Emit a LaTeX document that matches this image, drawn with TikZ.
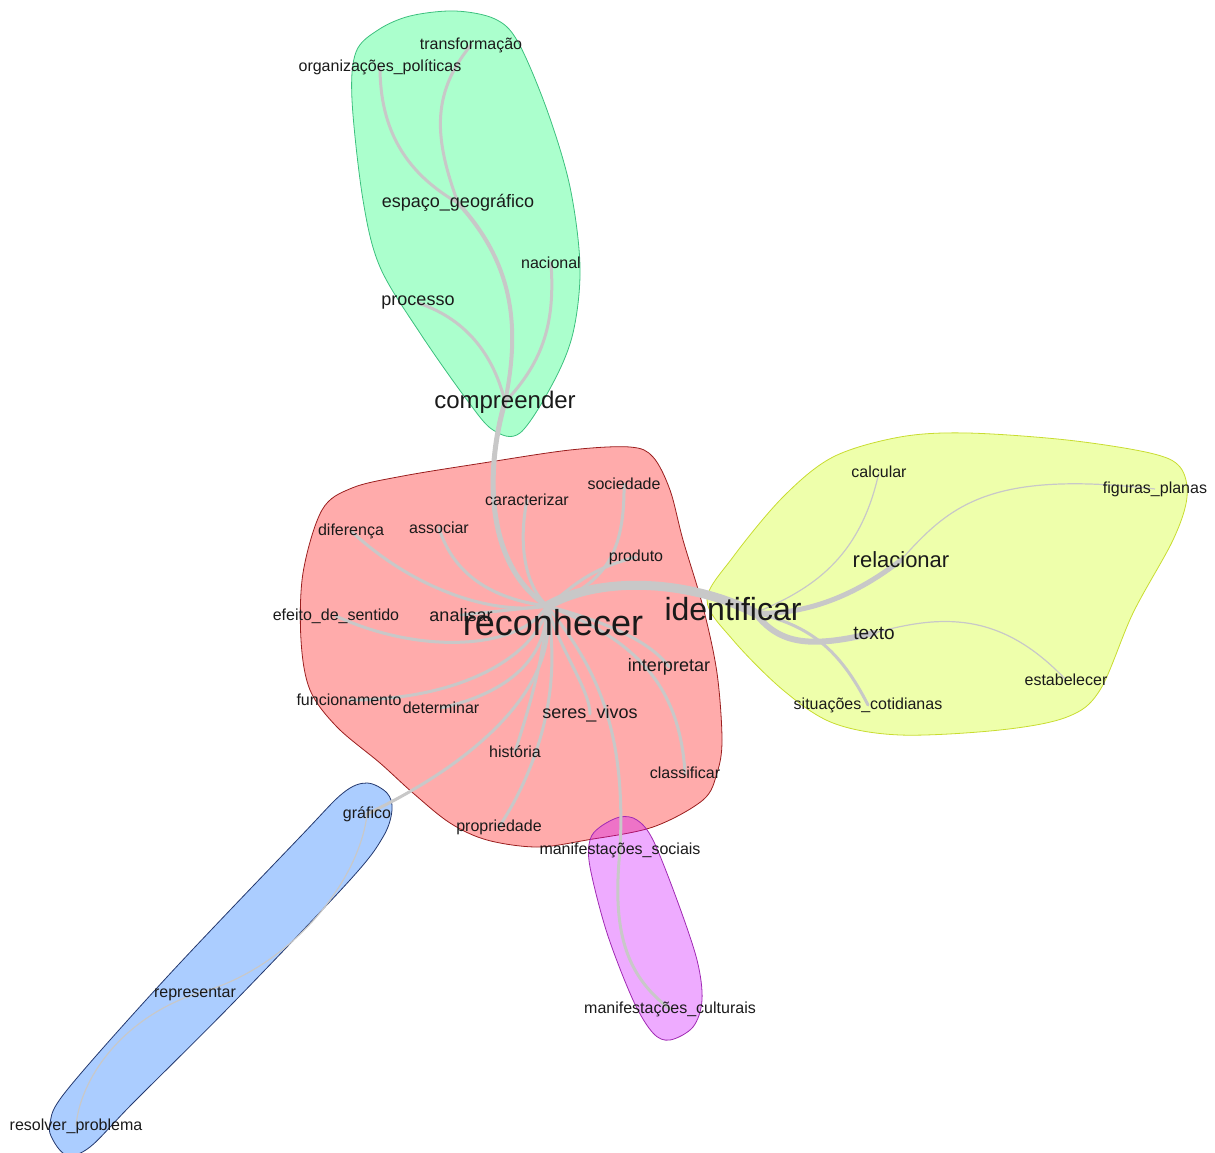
\documentclass[tikz,border=0pt]{standalone}
\usepackage{fontspec}
\setmainfont{Liberation Sans}
\definecolor{lk}{HTML}{C8C8C8}
\definecolor{txt}{HTML}{1A1A1A}
\definecolor{cred}{HTML}{FF0000}
\definecolor{cyel}{HTML}{CCFF00}
\definecolor{cgrn}{HTML}{00FF66}
\definecolor{cblu}{HTML}{0066FF}
\definecolor{cmag}{HTML}{CC00FF}
\definecolor{bred}{HTML}{9A1E1E}
\definecolor{byel}{HTML}{C8DC30}
\definecolor{bgrn}{HTML}{3CC07E}
\definecolor{bblu}{HTML}{23386E}
\definecolor{bmag}{HTML}{A02AB4}
\pgfdeclarelayer{hulls}
\pgfdeclarelayer{links}
\pgfsetlayers{hulls,links,main}
\begin{document}
\begin{tikzpicture}[x=1pt,y=-1pt,
    wd/.style={text=txt,inner sep=0pt,font=\fontsize{16}{18}\selectfont},
    wdm/.style={wd,font=\fontsize{18}{20}\selectfont},
    hull/.style={fill opacity=.33,draw opacity=1,line width=.8pt,smooth cycle,tension=.55},
    lnk/.style={draw=lk,line width=3pt,line cap=round},
    lnkthin/.style={draw=lk,line width=1.2pt}]
    \useasboundingbox(0,0)rectangle(1215,1153);
    \node[wd](transformacao)at(471,45){transformação};
    \node[wd](organizacoes)at(380,67){organizações\_políticas};
    \node[wdm](espaco)at(458,203){espaço\_geográfico};
    \node[wd](nacional)at(551,263){nacional};
    \node[wdm](processo)at(418,303){processo};
    \node[wd,font=\fontsize{24}{26}\selectfont](compreender)at(505,402){compreender};
    \node[wd](sociedade)at(624,484){sociedade};
    \node[wd](caracterizar)at(527,500){caracterizar};
    \node[wd](diferenca)at(351,531){diferença};
    \node[wd](associar)at(439,528){associar};
    \node[wd](produto)at(636,557){produto};
    \node[wd](efeito)at(336,616){efeito\_de\_sentido};
    \node[wdm](analisar)at(461,615){analisar};
    \node[wd,font=\fontsize{36}{40}\selectfont](reconhecer)at(553,623){reconhecer};
    \node[wd,font=\fontsize{32}{36}\selectfont](identificar)at(733,609){identificar};
    \node[wd,font=\fontsize{22}{24}\selectfont](relacionar)at(901,560){relacionar};
    \node[wd](calcular)at(879,472){calcular};
    \node[wd](figuras)at(1155,489){figuras\_planas};
    \node[wdm,font=\fontsize{19}{21}\selectfont](texto)at(874,633){texto};
    \node[wdm](interpretar)at(669,667){interpretar};
    \node[wd](estabelecer)at(1066,680){estabelecer};
    \node[wd](situacoes)at(868,705){situações\_cotidianas};
    \node[wd](funcionamento)at(349,700){funcionamento};
    \node[wd](determinar)at(441,708){determinar};
    \node[wdm](seres)at(590,714){seres\_vivos};
    \node[wd](historia)at(515,752){história};
    \node[wd](classificar)at(685,773){classificar};
    \node[wd](grafico)at(367,814){gráfico};
    \node[wd](propriedade)at(499,827){propriedade};
    \node[wd](sociais)at(620,850){manifestações\_sociais};
    \node[wd](representar)at(195,994){representar};
    \node[wd](culturais)at(670,1009){manifestações\_culturais};
    \node[wd](resolver)at(76,1126){resolver\_problema};
    \coordinate(rec)at(547,606);
    \coordinate(ide)at(755,613);
    \begin{pgfonlayer}{hulls}
    \draw[hull,fill=cgrn,draw=bgrn]plot coordinates{(455,11)(495,19)(518,42)(547,110)(570,187)(580,267)(573,333)(553,383)(520,433)(493,430)(467,400)(420,333)(380,267)(363,200)(352,100)(356,52)(378,30)(410,16)};
    \draw[hull,fill=cred,draw=bred]plot coordinates{(322,510)(352,488)(403,476)(483,463)(570,450)(630,447)(653,457)(670,490)(683,540)(703,607)(717,673)(722,740)(717,773)(703,800)(653,827)(587,840)(537,847)(487,840)(450,823)(413,793)(380,763)(337,727)(310,690)(301,640)(303,573)};
    \draw[hull,fill=cyel,draw=byel]plot coordinates{(707,600)(733,557)(783,497)(833,457)(900,437)(967,433)(1067,440)(1150,453)(1180,467)(1187,497)(1173,540)(1133,613)(1100,690)(1067,717)(1000,730)(900,735)(833,723)(783,690)(733,640)};
    \draw[hull,fill=cblu,draw=bblu]plot coordinates{(343,793)(367,783)(387,793)(392,810)(383,837)(350,880)(233,1003)(133,1103)(90,1147)(67,1155)(53,1140)(50,1123)(67,1090)(167,977)(300,837)};
    \draw[hull,fill=cmag,draw=bmag]plot coordinates{(620,817)(637,820)(653,840)(677,900)(697,960)(702,1000)(693,1027)(670,1040)(653,1033)(633,1000)(607,933)(590,867)(590,840)(600,827)};
    \end{pgfonlayer}
    \begin{pgfonlayer}{links}
    \draw[lnk,line width=9pt](rec).. controls(600,575)and(690,580)..(ide);
    \draw[lnk,line width=5pt](rec).. controls(485,565)and(485,470)..(compreender.center);
    \draw[lnk,line width=4pt](compreender.center).. controls(522,320)and(510,260)..(espaco.center);
    \draw[lnk](espaco.center).. controls(415,178)and(380,140)..(organizacoes.center);
    \draw[lnk](espaco.center).. controls(435,140)and(430,95)..(transformacao.center);
    \draw[lnk](compreender.center).. controls(495,360)and(470,320)..(processo.center);
    \draw[lnk](compreender.center).. controls(545,360)and(555,320)..(nacional.center);
    \draw[lnk](rec).. controls(525,585)and(518,545)..(caracterizar.center);
    \draw[lnk](rec).. controls(600,585)and(625,560)..(sociedade.center);
    \draw[lnk](rec).. controls(570,590)and(585,570)..(produto.center);
    \draw[lnk](rec).. controls(500,600)and(455,580)..(associar.center);
    \draw[lnk](rec).. controls(500,615)and(420,595)..(diferenca.center);
    \draw[lnk](rec).. controls(520,650)and(420,655)..(efeito.center);
    \draw[lnk](rec)--(analisar.center);
    \draw[lnk](rec).. controls(540,650)and(470,700)..(funcionamento.center);
    \draw[lnk](rec).. controls(547,650)and(520,690)..(determinar.center);
    \draw[lnk](rec).. controls(545,660)and(525,720)..(historia.center);
    \draw[lnk](rec).. controls(565,700)and(530,780)..(propriedade.center);
    \draw[lnk](rec).. controls(560,690)and(470,765)..(grafico.center);
    \draw[lnk](rec).. controls(560,650)and(590,690)..(seres.center);
    \draw[lnk](rec).. controls(600,620)and(650,640)..(interpretar.center);
    \draw[lnk](rec).. controls(640,640)and(680,690)..(classificar.center);
    \draw[lnk](rec).. controls(590,660)and(627,720)..(sociais.center);
    \draw[lnk](sociais.center).. controls(612,930)and(625,975)..(culturais.center);
    \draw[lnk,line width=5pt](ide).. controls(800,615)and(850,600)..(relacionar.center);
    \draw[lnk,line width=6pt](ide).. controls(780,645)and(810,648)..(texto.center);
    \draw[lnk](ide).. controls(810,625)and(840,650)..(situacoes.center);
    \draw[lnkthin](ide).. controls(810,590)and(860,560)..(calcular.center);
    \draw[lnkthin](relacionar.center).. controls(950,505)and(990,470)..(figuras.center);
    \draw[lnkthin](texto.center).. controls(940,615)and(1000,610)..(estabelecer.center);
    \draw[lnkthin](grafico.center).. controls(360,880)and(290,970)..(representar.center);
    \draw[lnkthin](representar.center).. controls(120,1020)and(80,1080)..(resolver.center);
    \end{pgfonlayer}
\end{tikzpicture}
\end{document}
